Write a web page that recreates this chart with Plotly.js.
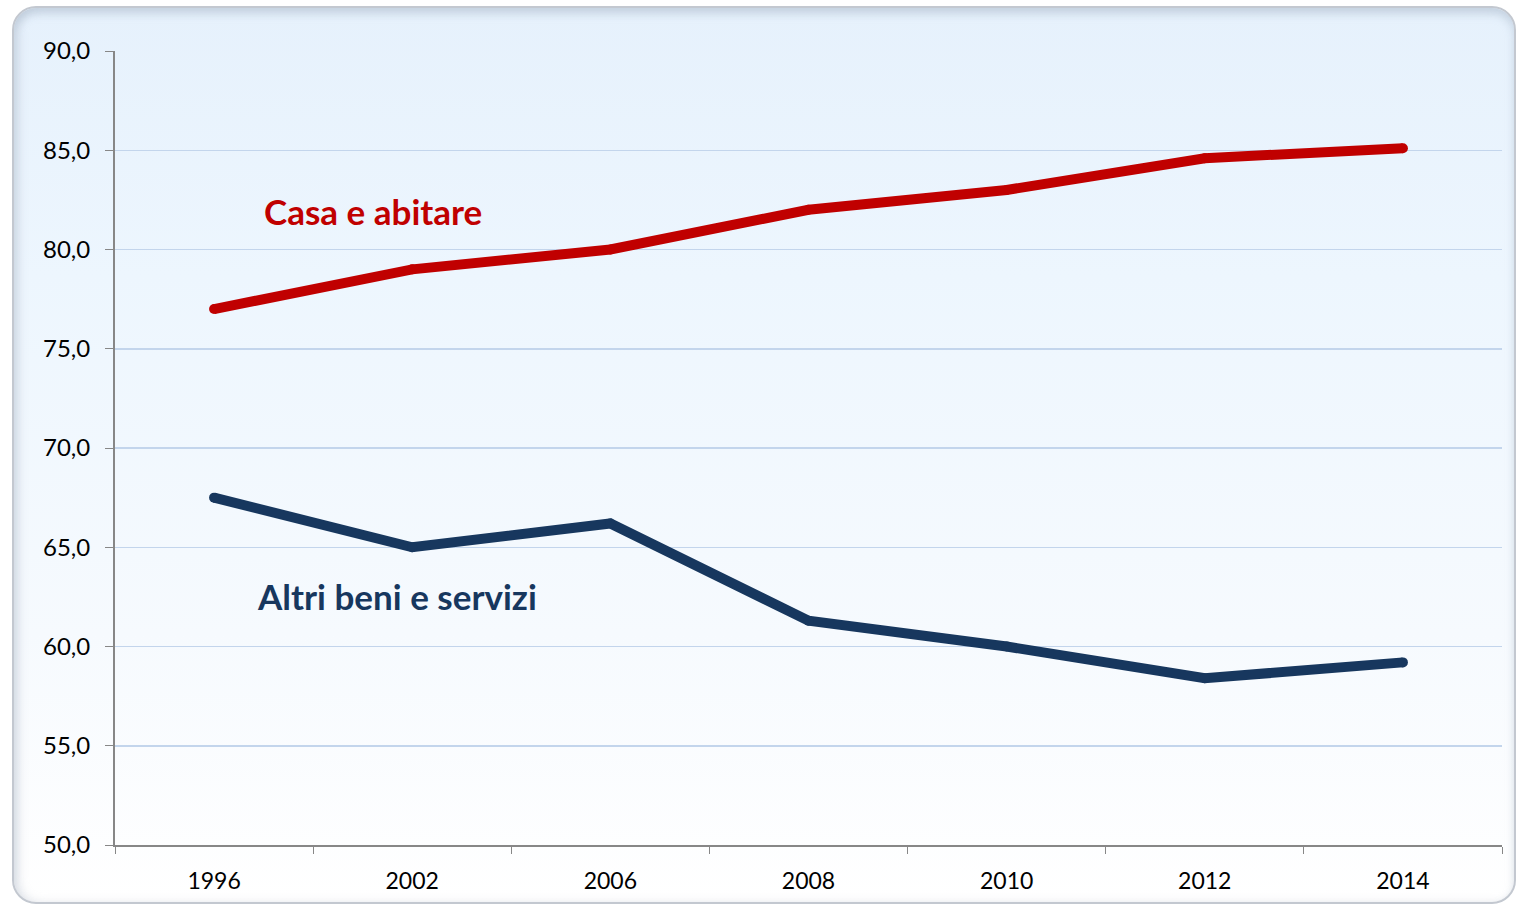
<!DOCTYPE html>
<html>
<head>
<meta charset="utf-8">
<script src="https://cdn.plot.ly/plotly-3.0.1.min.js"></script>
<style>
  html, body { margin:0; padding:0; width:1518px; height:906px; overflow:hidden; background:#ffffff; }
  #frame {
    position:absolute; left:12px; top:6px; width:1500px; height:894px;
    border:2px solid #c3c8d0; border-radius:24px;
    background: linear-gradient(to bottom, #e6f1fc 0%, #edf6fe 30%, #f6fafe 70%, #ffffff 100%);
    box-shadow: inset 0 6px 8px rgba(150,165,185,0.35), inset 6px 0 8px rgba(170,180,195,0.25);
  }
  #chart { position:absolute; left:0; top:0; width:1518px; height:906px; }
</style>
</head>
<body>
<div id="frame"></div>
<div id="chart"></div>
<script>
const years = ["1996", "2002", "2006", "2008", "2010", "2012", "2014"];
const casaAbitare = [77.0, 79.0, 80.0, 82.0, 83.0, 84.6, 85.1];
const altriBeni = [67.5, 65.0, 66.2, 61.3, 60.0, 58.4, 59.2];
const yTicks = [50, 55, 60, 65, 70, 75, 80, 85, 90];
const yTickLabels = ["50,0", "55,0", "60,0", "65,0", "70,0", "75,0", "80,0", "85,0", "90,0"];
const seriesNames = ["Casa e abitare", "Altri beni e servizi"];

const traces = [
  { x: years, y: casaAbitare, type: 'scatter', mode: 'lines+markers', name: seriesNames[0],
    line: { color: '#c00000', width: 10 }, marker: { color: '#c00000', size: 10 } },
  { x: years, y: altriBeni, type: 'scatter', mode: 'lines+markers', name: seriesNames[1],
    line: { color: '#17375e', width: 10 }, marker: { color: '#17375e', size: 10 } }
];

const layout = {
  width: 1518, height: 906,
  paper_bgcolor: 'rgba(0,0,0,0)', plot_bgcolor: 'rgba(0,0,0,0)',
  margin: { l: 115, r: 16, t: 51, b: 61 },
  showlegend: false,
  font: { family: 'Lato, "Open Sans", sans-serif', size: 23, color: '#000000' },
  xaxis: {
    type: 'category', tickson: 'boundaries', ticks: 'outside', ticklen: 7, tickcolor: '#878787',
    showline: true, linecolor: '#878787', linewidth: 2, showgrid: false,
    tickfont: { size: 23, color: '#000' }, range: [-0.5, 6.5], fixedrange: true,
    ticklabelstandoff: 14
  },
  yaxis: {
    range: [50, 90], tickvals: yTicks, ticktext: yTickLabels,
    ticks: 'outside', ticklen: 8, tickcolor: '#878787',
    showline: true, linecolor: '#878787', linewidth: 2,
    showgrid: true, gridcolor: '#c3d5ec', gridwidth: 1.5, zeroline: false,
    tickfont: { size: 24, color: '#000' }, ticklabelstandoff: 10
  },
  annotations: [
    { x: 0.802, y: 81.94, xref: 'x', yref: 'y', text: '<b>' + seriesNames[0] + '</b>', showarrow: false,
      font: { size: 35, color: '#c00000', family: 'Lato, sans-serif' } },
    { x: 0.924, y: 62.54, xref: 'x', yref: 'y', text: '<b>' + seriesNames[1] + '</b>', showarrow: false,
      font: { size: 35, color: '#17375e', family: 'Lato, sans-serif' } }
  ]
};

Plotly.newPlot('chart', traces, layout, { displayModeBar: false, staticPlot: true });
</script>
</body>
</html>
